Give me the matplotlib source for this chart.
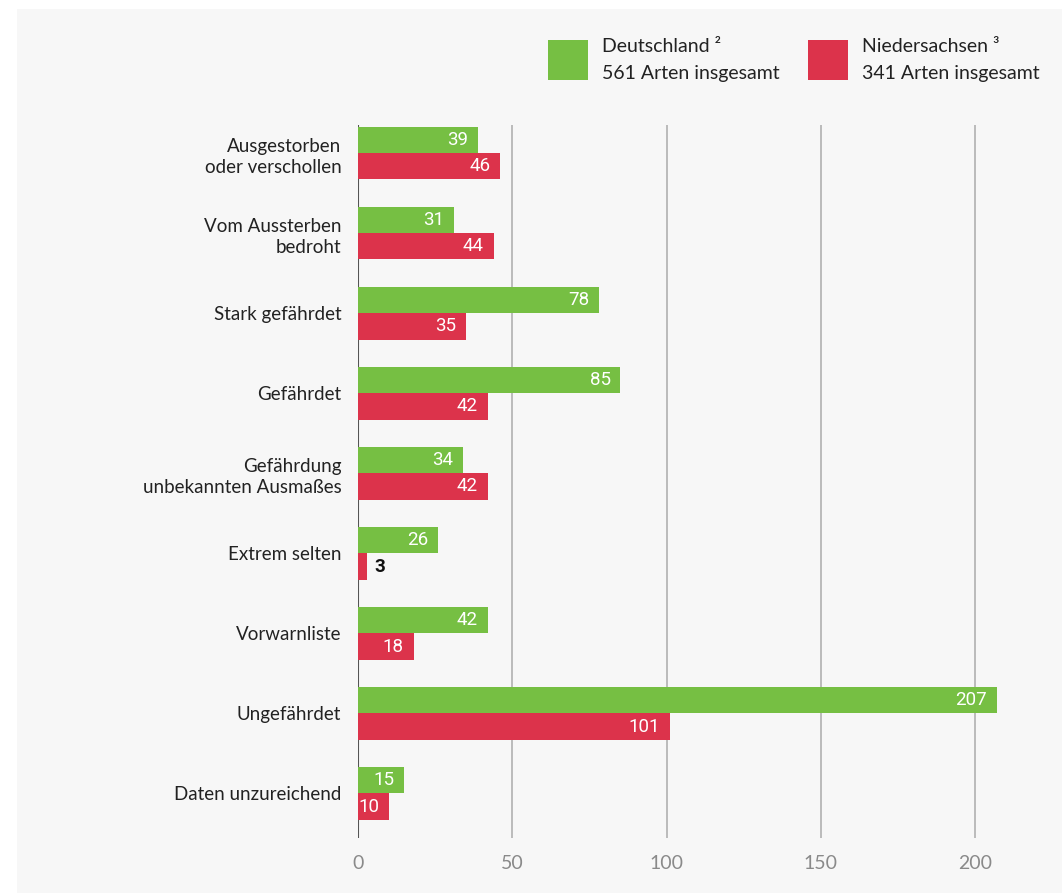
import matplotlib.pyplot as plt
from matplotlib.patches import Rectangle
import numpy as np

plt.rcParams['font.family'] = ['Lato', 'DejaVu Sans']

categories = [
    "Ausgestorben\noder verschollen",
    "Vom Aussterben\nbedroht",
    "Stark gefährdet",
    "Gefährdet",
    "Gefährdung\nunbekannten Ausmaßes",
    "Extrem selten",
    "Vorwarnliste",
    "Ungefährdet",
    "Daten unzureichend",
]
deutschland = [39, 31, 78, 85, 34, 26, 42, 207, 15]
niedersachsen = [46, 44, 35, 42, 42, 3, 18, 101, 10]
xticks = [0, 50, 100, 150, 200]

GREEN = "#76bf43"
RED = "#dc334b"
BG = "#f7f7f7"

W, H = 1062, 893
fig = plt.figure(figsize=(W / 100, H / 100), dpi=100, facecolor="white")
# grey panel
fig.add_artist(Rectangle((17 / W, 0), 1 - 17 / W, 1 - 9 / H, transform=fig.transFigure,
                         facecolor=BG, edgecolor="none", zorder=0))

ax = fig.add_axes([358 / W, 1 - 838 / H, 680 / W, (838 - 125) / H])
ax.set_facecolor(BG)

y = np.arange(len(categories))
h = 0.33
ax.barh(y - h / 2, deutschland, height=h, color=GREEN, zorder=3)
ax.barh(y + h / 2, niedersachsen, height=h, color=RED, zorder=3)

ax.set_xlim(0, 680 / 3.085)
ax.set_ylim(len(categories) - 1 + 0.556, -0.35)

lab_kw = dict(textcoords="offset points", va="center", fontsize=13.5, zorder=4,
              family=["Roboto", "DejaVu Sans"])
for yi, v in zip(y, deutschland):
    ax.annotate(str(v), (v, yi - h / 2), xytext=(-7, 0), ha="right", color="white", **lab_kw)
for yi, v in zip(y, niedersachsen):
    if v < 8:
        kw = dict(lab_kw, fontweight="bold")
        ax.annotate(str(v), (v, yi + h / 2), xytext=(5, 0), ha="left", color="#111111", **kw)
    else:
        ax.annotate(str(v), (v, yi + h / 2), xytext=(-7, 0), ha="right", color="white", **lab_kw)

ax.set_xticks(xticks)
ax.set_xticklabels([str(t) for t in xticks])
ax.tick_params(axis="x", length=0, pad=12, labelsize=14, labelcolor="#8a8a8a")
ax.set_yticks(y)
ax.set_yticklabels(categories, fontsize=13.5, color="#222222", linespacing=1.3)
ax.tick_params(axis="y", length=0, pad=12)
for lbl in ax.get_yticklabels():
    lbl.set_multialignment("right")

ax.grid(axis="x", color="#ababab", linewidth=1.1, zorder=1)
ax.axvline(0, color="#555555", linewidth=1.5, zorder=2)
for s in ax.spines.values():
    s.set_visible(False)

# legend
for x0, col, l1, l2 in [(548, GREEN, "Deutschland ²", "561 Arten insgesamt"),
                        (808, RED, "Niedersachsen ³", "341 Arten insgesamt")]:
    fig.add_artist(Rectangle((x0 / W, 1 - 80 / H), 40 / W, 40 / H, transform=fig.transFigure,
                             facecolor=col, edgecolor="none"))
    fig.text((x0 + 54) / W, 1 - 47 / H, l1, ha="left", va="center", fontsize=14, color="#222222")
    fig.text((x0 + 54) / W, 1 - 73 / H, l2, ha="left", va="center", fontsize=14, color="#222222")

fig.savefig("out.png", dpi=100, facecolor="white")
